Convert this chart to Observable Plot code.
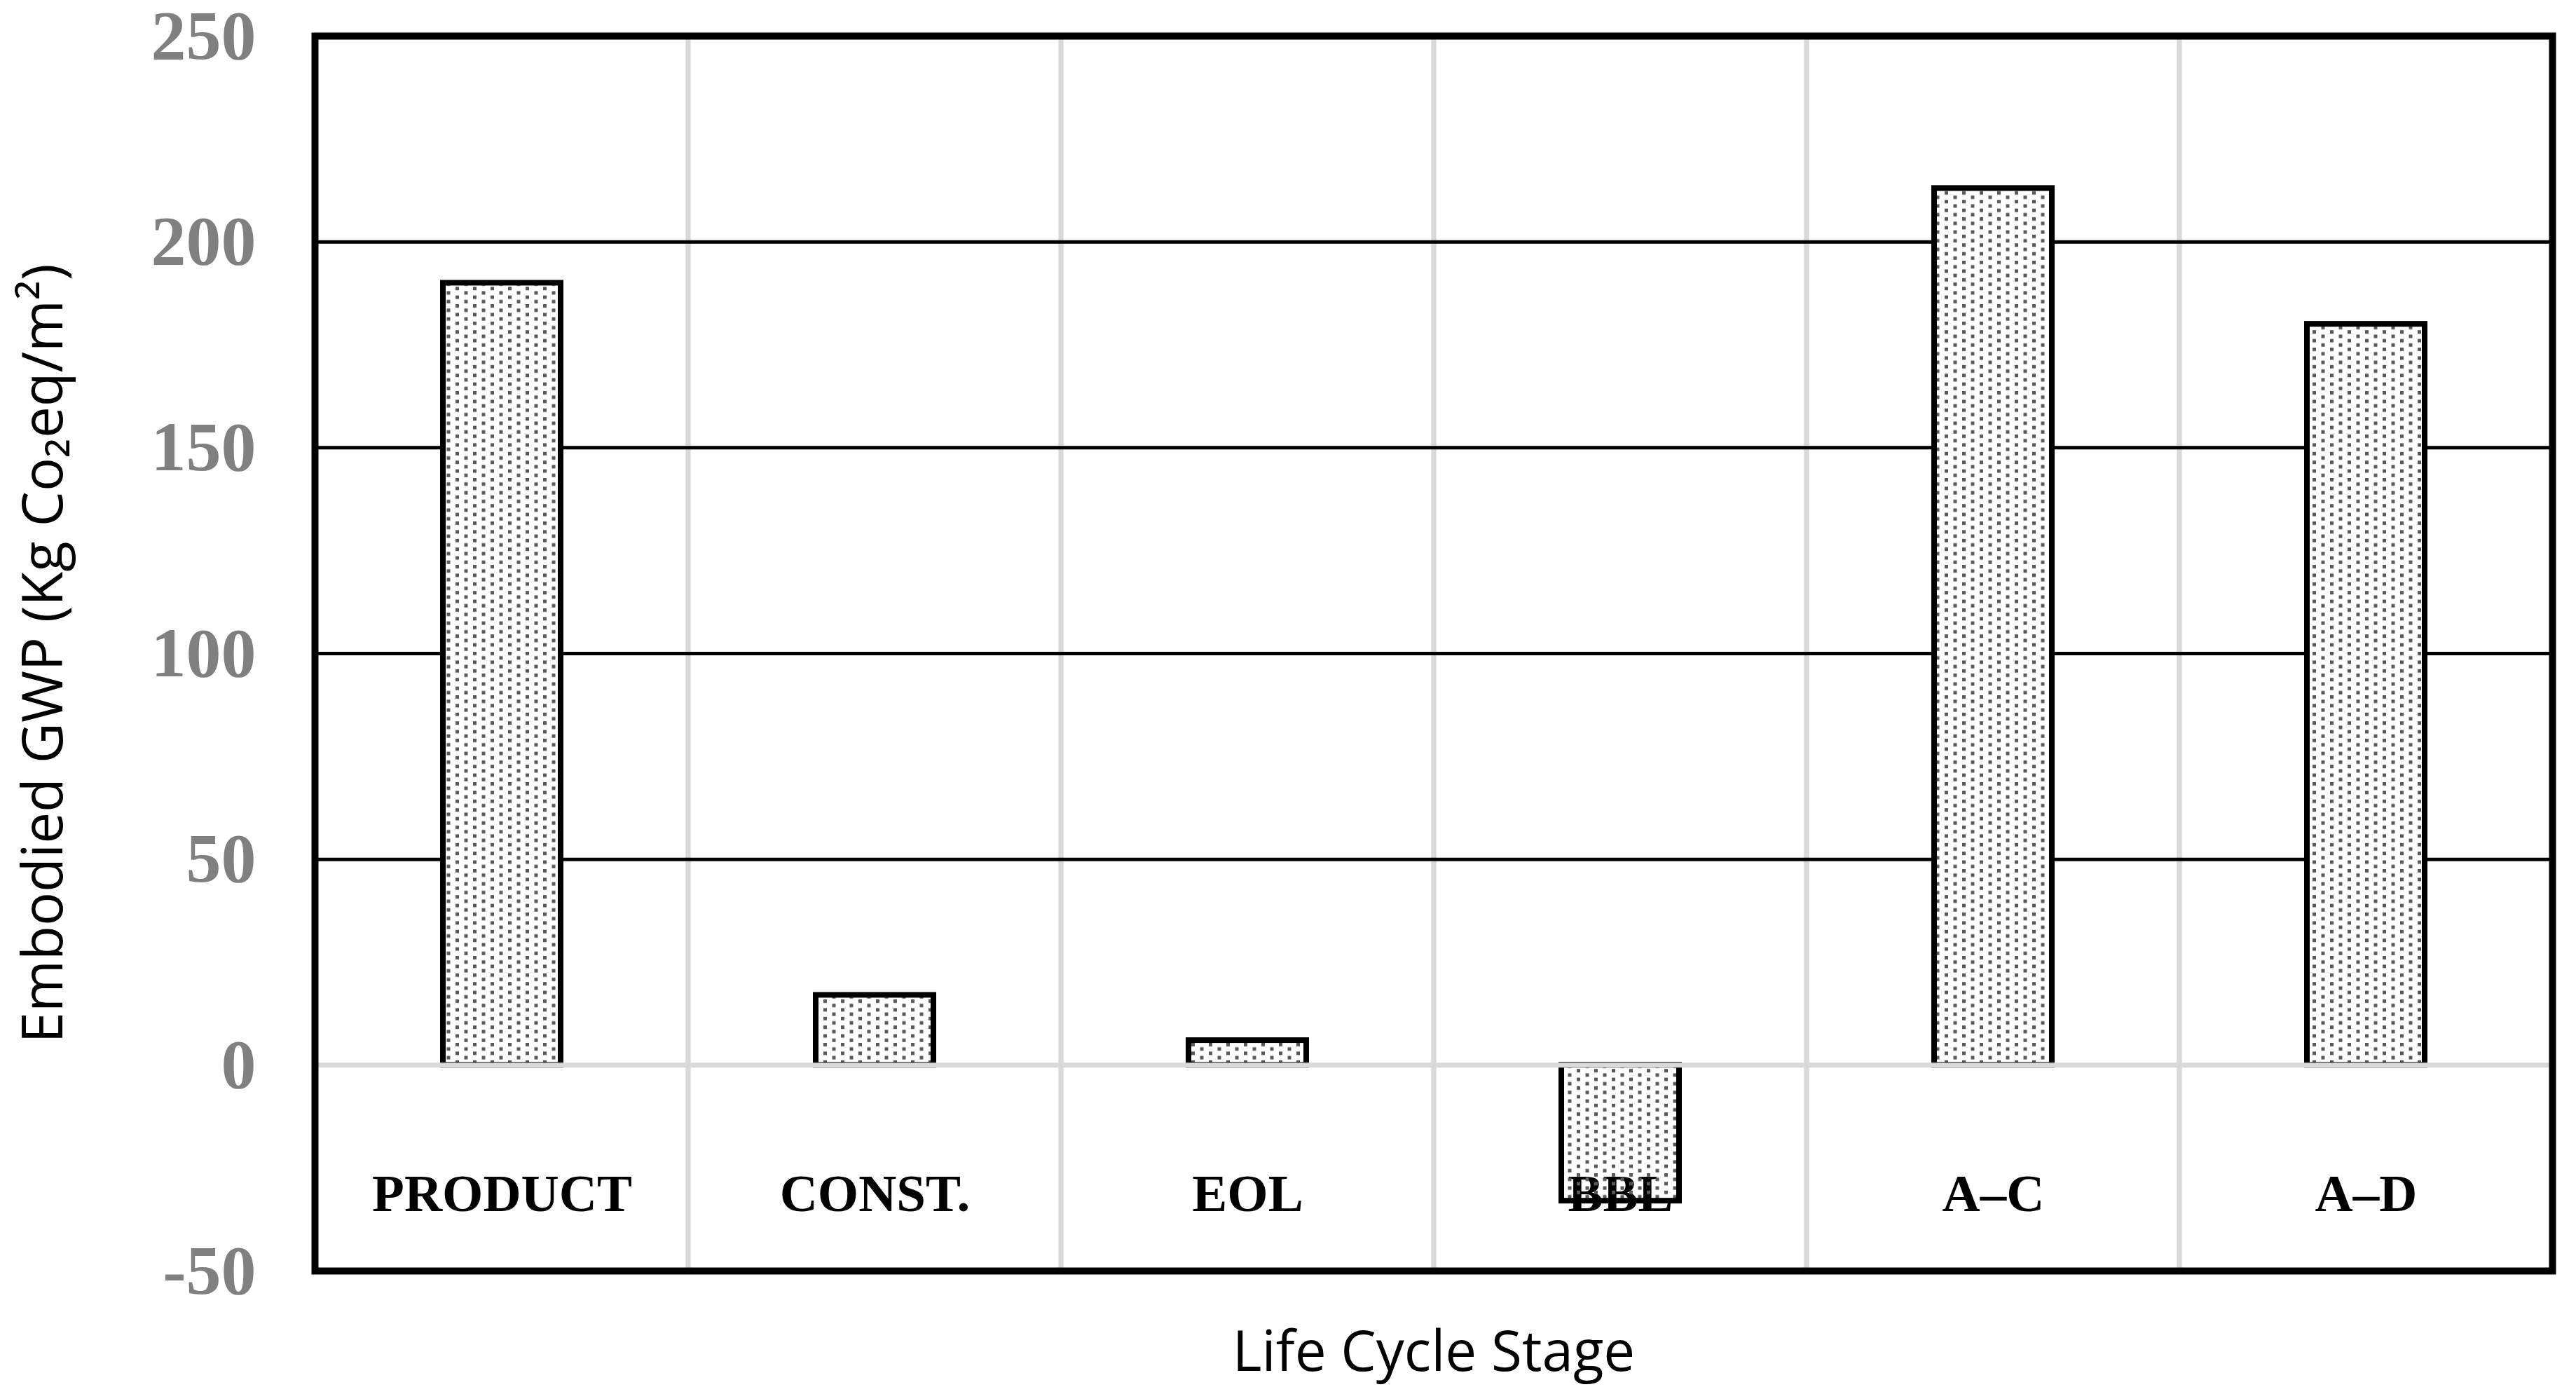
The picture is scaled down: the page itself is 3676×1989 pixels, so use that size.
<!DOCTYPE html>
<html>
<head>
<meta charset="utf-8">
<script src="https://cdn.jsdelivr.net/npm/d3@7"></script>
<script src="https://cdn.jsdelivr.net/npm/@observablehq/plot@0.6"></script>
<style>
  html, body { margin: 0; padding: 0; background: #ffffff; }
  #chart svg { display: block; }
</style>
</head>
<body>
<div id="chart"></div>
<script>
// ---- data ----
const stages = ["PRODUCT", "CONST.", "EOL", "BBL", "A–C", "A–D"];
const gwp = [190, 17, 6, -33, 213, 180];
const yTicks = [-50, 0, 50, 100, 150, 200, 250];
const gridValues = [50, 100, 150, 200];
const zeroLine = [0];
const yTitle = "Embodied GWP (Kg Co₂eq/m²)";
const xTitle = "Life Cycle Stage";

const data = stages.map((s, i) => ({stage: s, value: gwp[i]}));

const barInset = 182;

const chart = Plot.plot({
  width: 3676,
  height: 1989,
  marginLeft: 449,
  marginRight: 34,
  marginTop: 51,
  marginBottom: 176,
  style: {background: "#ffffff", overflow: "visible"},
  x: {domain: stages, padding: 0},
  y: {domain: [yTicks[0], yTicks[yTicks.length - 1]]},
  marks: [
    // vertical light-gray category separators
    Plot.barY(stages, {x: d => d, y1: yTicks[0], y2: yTicks[yTicks.length - 1], fill: "none", stroke: "#d9d9d9", strokeWidth: 7}),
    // black horizontal gridlines
    Plot.ruleY(gridValues, {stroke: "#000000", strokeWidth: 5}),
    // white bar background
    Plot.barY(data, {x: "stage", y: "value", fill: "#ffffff", insetLeft: barInset, insetRight: barInset}),
    // category labels inside the plot
    Plot.axisX({tickSize: 0, tickPadding: 0, dy: -139, fontSize: 75, fontWeight: "bold", fontFamily: "Liberation Serif", color: "#000000", label: null}),
    // dotted bars with black border
    Plot.barY(data, {x: "stage", y: "value", fill: "url(#dots)", stroke: "#000000", strokeWidth: 8, insetLeft: barInset, insetRight: barInset}),
    // zero line
    Plot.ruleY(zeroLine, {stroke: "#d9d9d9", strokeWidth: 7}),
    Plot.frame({stroke: "#000000", strokeWidth: 10}),
    Plot.axisY(yTicks, {tickSize: 0, tickPadding: 84, fontSize: 100, fontWeight: "bold", fontFamily: "Liberation Serif", color: "#808080", label: null, tickFormat: d => String(d)}),
    Plot.text([yTitle], {text: d => d, frameAnchor: "left", textAnchor: "middle", rotate: -90, dx: -386, fontSize: 80, fontFamily: "Open Sans", fill: "#000000"}),
    Plot.text([xTitle], {text: d => d, frameAnchor: "bottom", dy: 142, fontSize: 80, fontFamily: "Open Sans", fill: "#000000"})
  ]
});

// dotted fill pattern
const defs = d3.select(chart).insert("defs", ":first-child");
const pat = defs.append("pattern")
  .attr("id", "dots")
  .attr("patternUnits", "userSpaceOnUse")
  .attr("width", 25)
  .attr("height", 12.4);
pat.append("rect").attr("x", 0).attr("y", 0).attr("width", 5).attr("height", 5).attr("fill", "#595959");
pat.append("rect").attr("x", 12.5).attr("y", 6.2).attr("width", 5).attr("height", 5).attr("fill", "#595959");

document.getElementById("chart").appendChild(chart);
</script>
</body>
</html>
